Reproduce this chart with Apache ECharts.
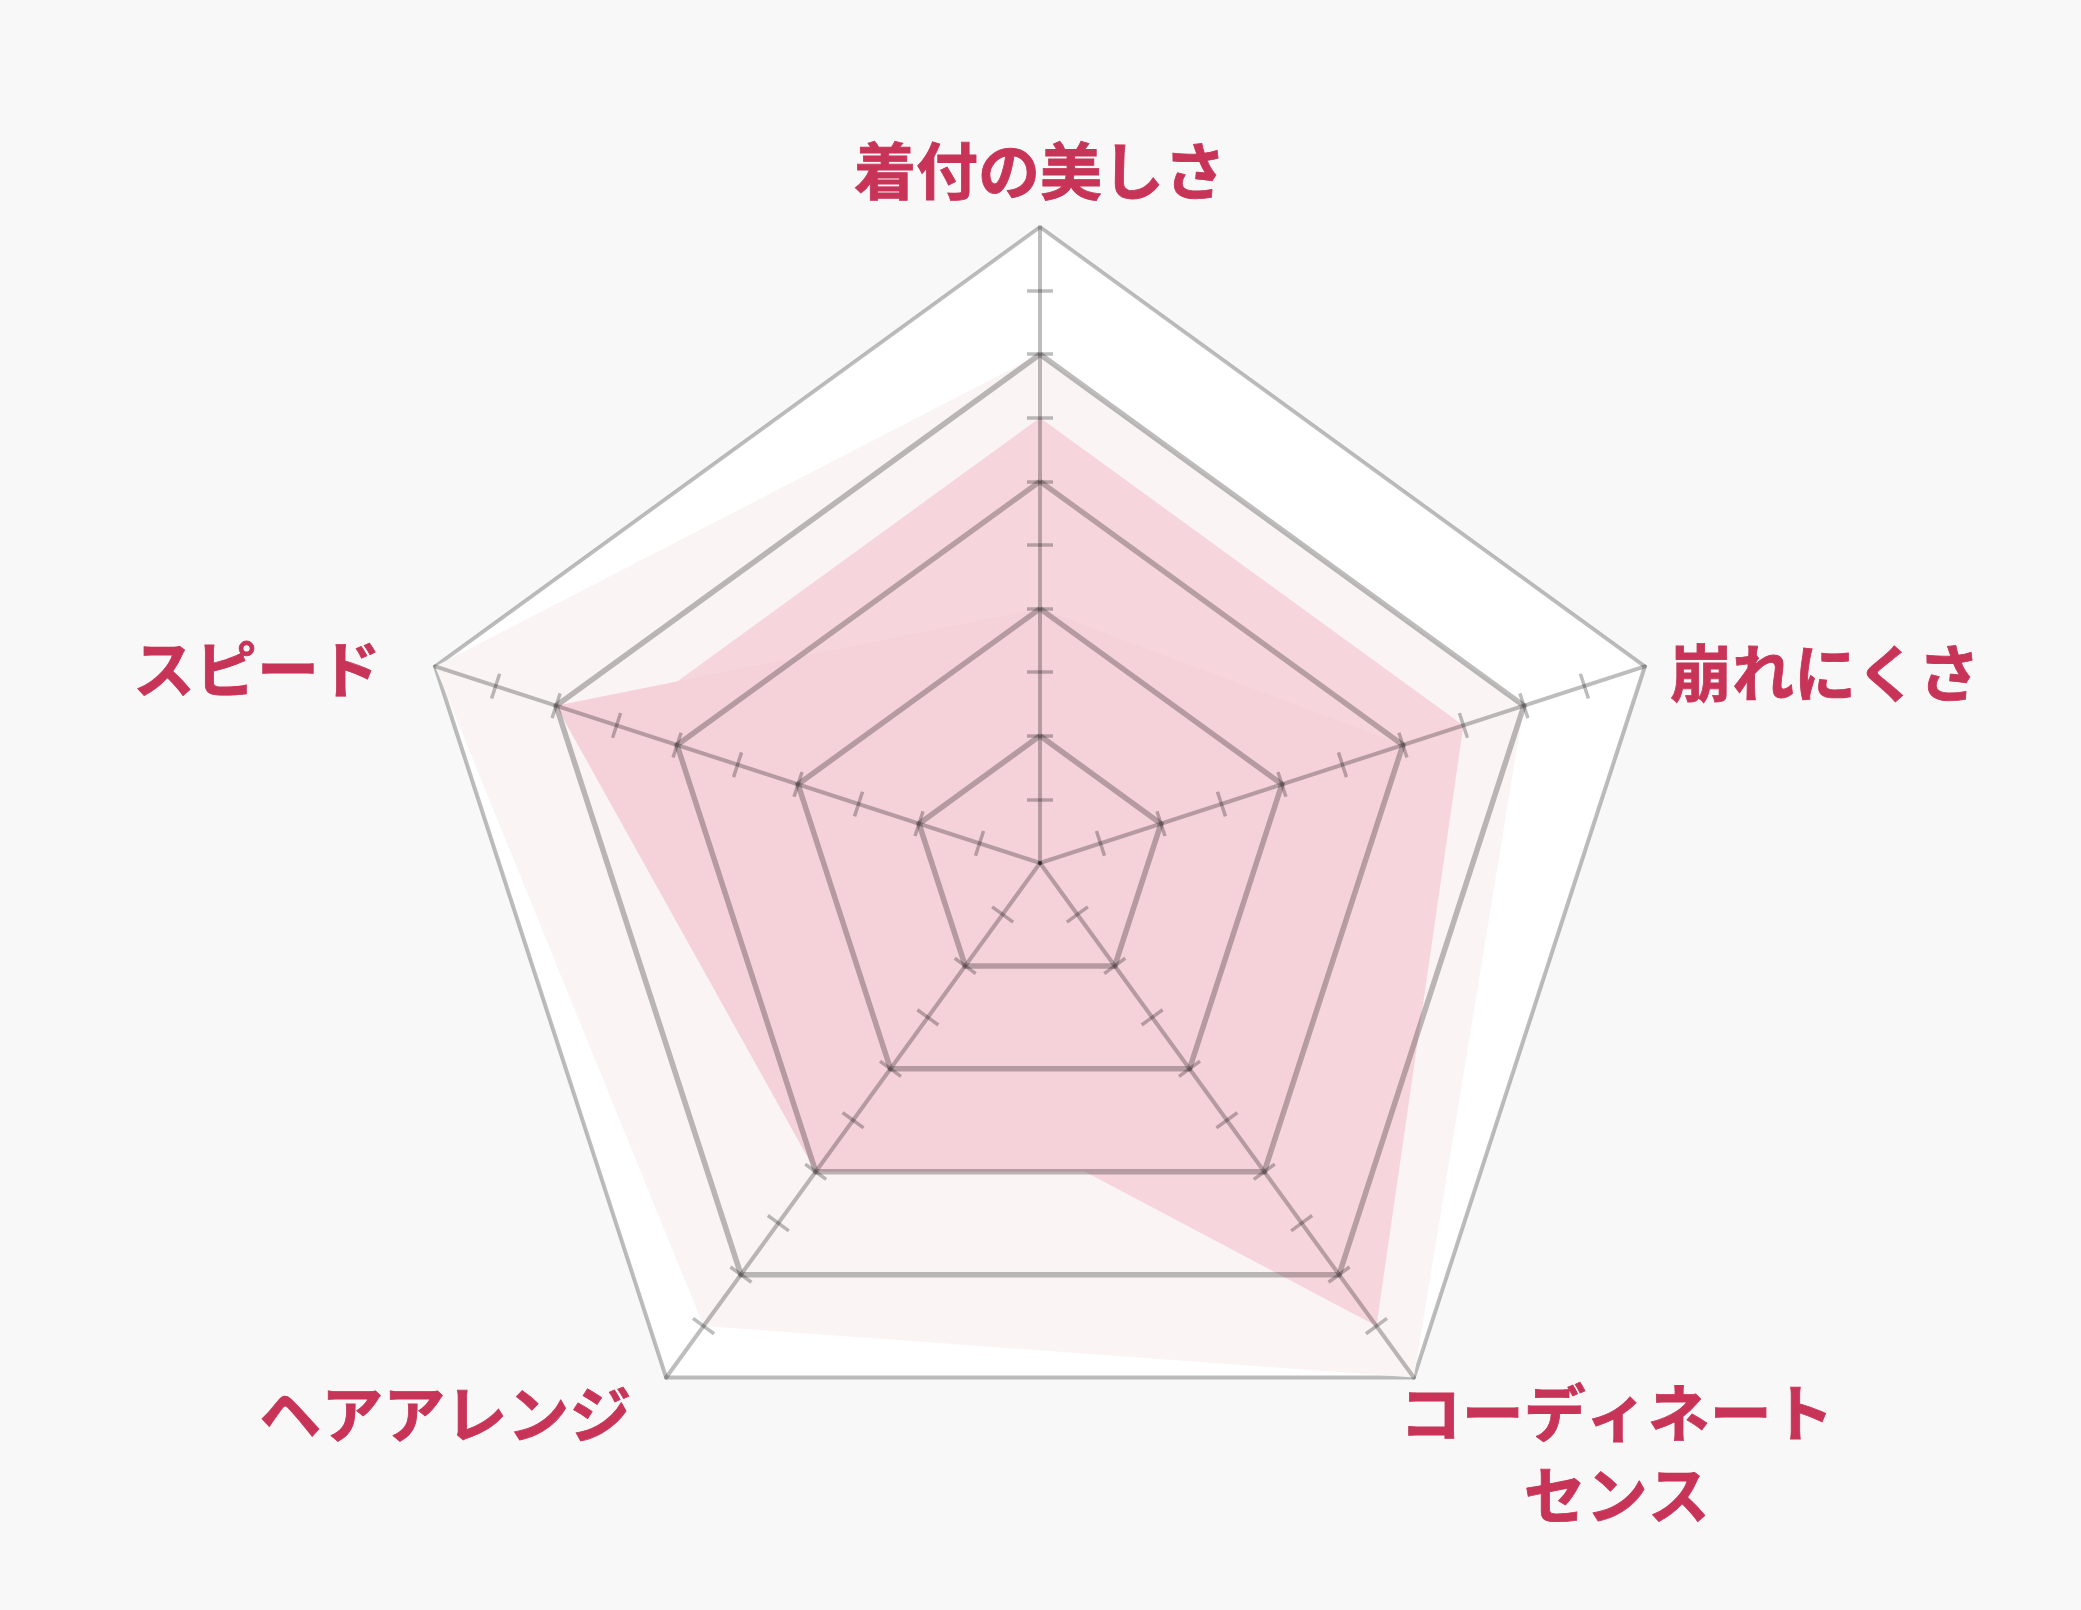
<!DOCTYPE html>
<html>
<head>
<meta charset="utf-8">
<title>レーダーチャート</title>
<script src="https://cdn.jsdelivr.net/npm/echarts@6/dist/echarts.min.js"></script>
<style>
  html, body { margin: 0; padding: 0; background: #f8f8f8; }
  #chart { width: 2081px; height: 1610px; }
</style>
</head>
<body>
<div id="chart"></div>
<script>
// 項目（上から反時計回り）
var indicatorNames = ['着付の美しさ', 'スピード', 'ヘアアレンジ', 'コーディネートセンス', '崩れにくさ'];
var indicatorMax = 10;
// 目盛り（細い刻み）
var tickValues = [1, 2, 3, 4, 5, 6, 7, 8, 9];
// 各系列の値
var outerValues = [8, 10, 9, 10, 8];
var middleValues = [7, 7, 4, 9, 7];
var innerValues = [4, 8, 6, 6, 6];

var chart = echarts.init(document.getElementById('chart'));

var lineColor = 'rgba(0,0,0,0.26)';
var noColor = 'rgba(0,0,0,0)';
var labelColor = '#c83458';

var indicators = indicatorNames.map(function (n) {
	return { name: n, min: 0, max: indicatorMax };
});

// ラベルの位置調整用
var nameKeys = ['t', 'l', 'bl', 'br', 'r'];
function nameStyle(padding, align) {
	return {
		color: labelColor,
		fontSize: 62,
		fontWeight: 'bold',
		fontFamily: 'Noto Sans CJK JP',
		textBorderColor: labelColor,
		textBorderWidth: 0.8,
		lineHeight: 82,
		padding: padding,
		align: align
	};
}

var base = {
	center: [1040, 863],
	radius: 636,
	startAngle: 90,
	shape: 'polygon',
	indicator: indicators,
	axisName: { show: false },
	axisLine: { show: false },
	axisTick: { show: false },
	axisLabel: { show: false },
	splitLine: { show: false },
	splitArea: { show: false }
};

function radar(extra) {
	return Object.assign({}, base, extra);
}

var option = {
	backgroundColor: '#f8f8f8',
	animation: false,
	radar: [
		// 背景と外枠
		radar({
			z: 0,
			splitNumber: 1,
			nameGap: -24,
			splitArea: { show: true, areaStyle: { color: ['#ffffff'] } },
			splitLine: { show: true, lineStyle: { color: [noColor, lineColor], width: 4 } },
			axisName: {
				show: true,
				formatter: function (name) {
					var k = nameKeys[indicatorNames.indexOf(name)];
					if (k === 'br') {
						return '{br|コーディネート\nセンス}';
					}
					return '{' + k + '|' + name + '}';
				},
				rich: {
					t: nameStyle([0, 0, 78, 0], 'center'),
					l: nameStyle([0, 77, 8, 0]),
					bl: nameStyle([112, 49, 0, 0]),
					br: nameStyle([192, 0, 0, 0], 'center'),
					r: nameStyle([0, 0, 0, 48])
				}
			}
		}),
		// 軸線と片側の刻み
		radar({
			z: 10,
			axisLine: { show: true, lineStyle: { color: lineColor, width: 4 } },
			axisTick: { show: true, length: 13, customValues: tickValues, lineStyle: { color: lineColor, width: 3.5 } }
		}),
		// 反対側の刻み
		radar({
			z: 10,
			axisTick: { show: true, length: -13, customValues: tickValues, lineStyle: { color: lineColor, width: 3.5 } }
		}),
		// 内側の目盛り線
		radar({
			z: 10,
			splitNumber: 5,
			splitLine: {
				show: true,
				lineStyle: { color: [noColor, lineColor, lineColor, lineColor, lineColor, noColor], width: 5.5 }
			}
		})
	],
	series: [
		{
			type: 'radar',
			radarIndex: 0,
			z: 2,
			symbol: 'none',
			lineStyle: { opacity: 0 },
			areaStyle: { color: '#fbf4f5', opacity: 1 },
			data: [{ value: outerValues }]
		},
		{
			type: 'radar',
			radarIndex: 0,
			z: 3,
			symbol: 'none',
			lineStyle: { opacity: 0 },
			areaStyle: { color: '#f6d6dc', opacity: 1 },
			data: [{ value: middleValues }]
		},
		{
			type: 'radar',
			radarIndex: 0,
			z: 4,
			symbol: 'none',
			lineStyle: { opacity: 0 },
			areaStyle: { color: '#f5d2d9', opacity: 1 },
			data: [{ value: innerValues }]
		}
	]
};

chart.setOption(option);
</script>
</body>
</html>
